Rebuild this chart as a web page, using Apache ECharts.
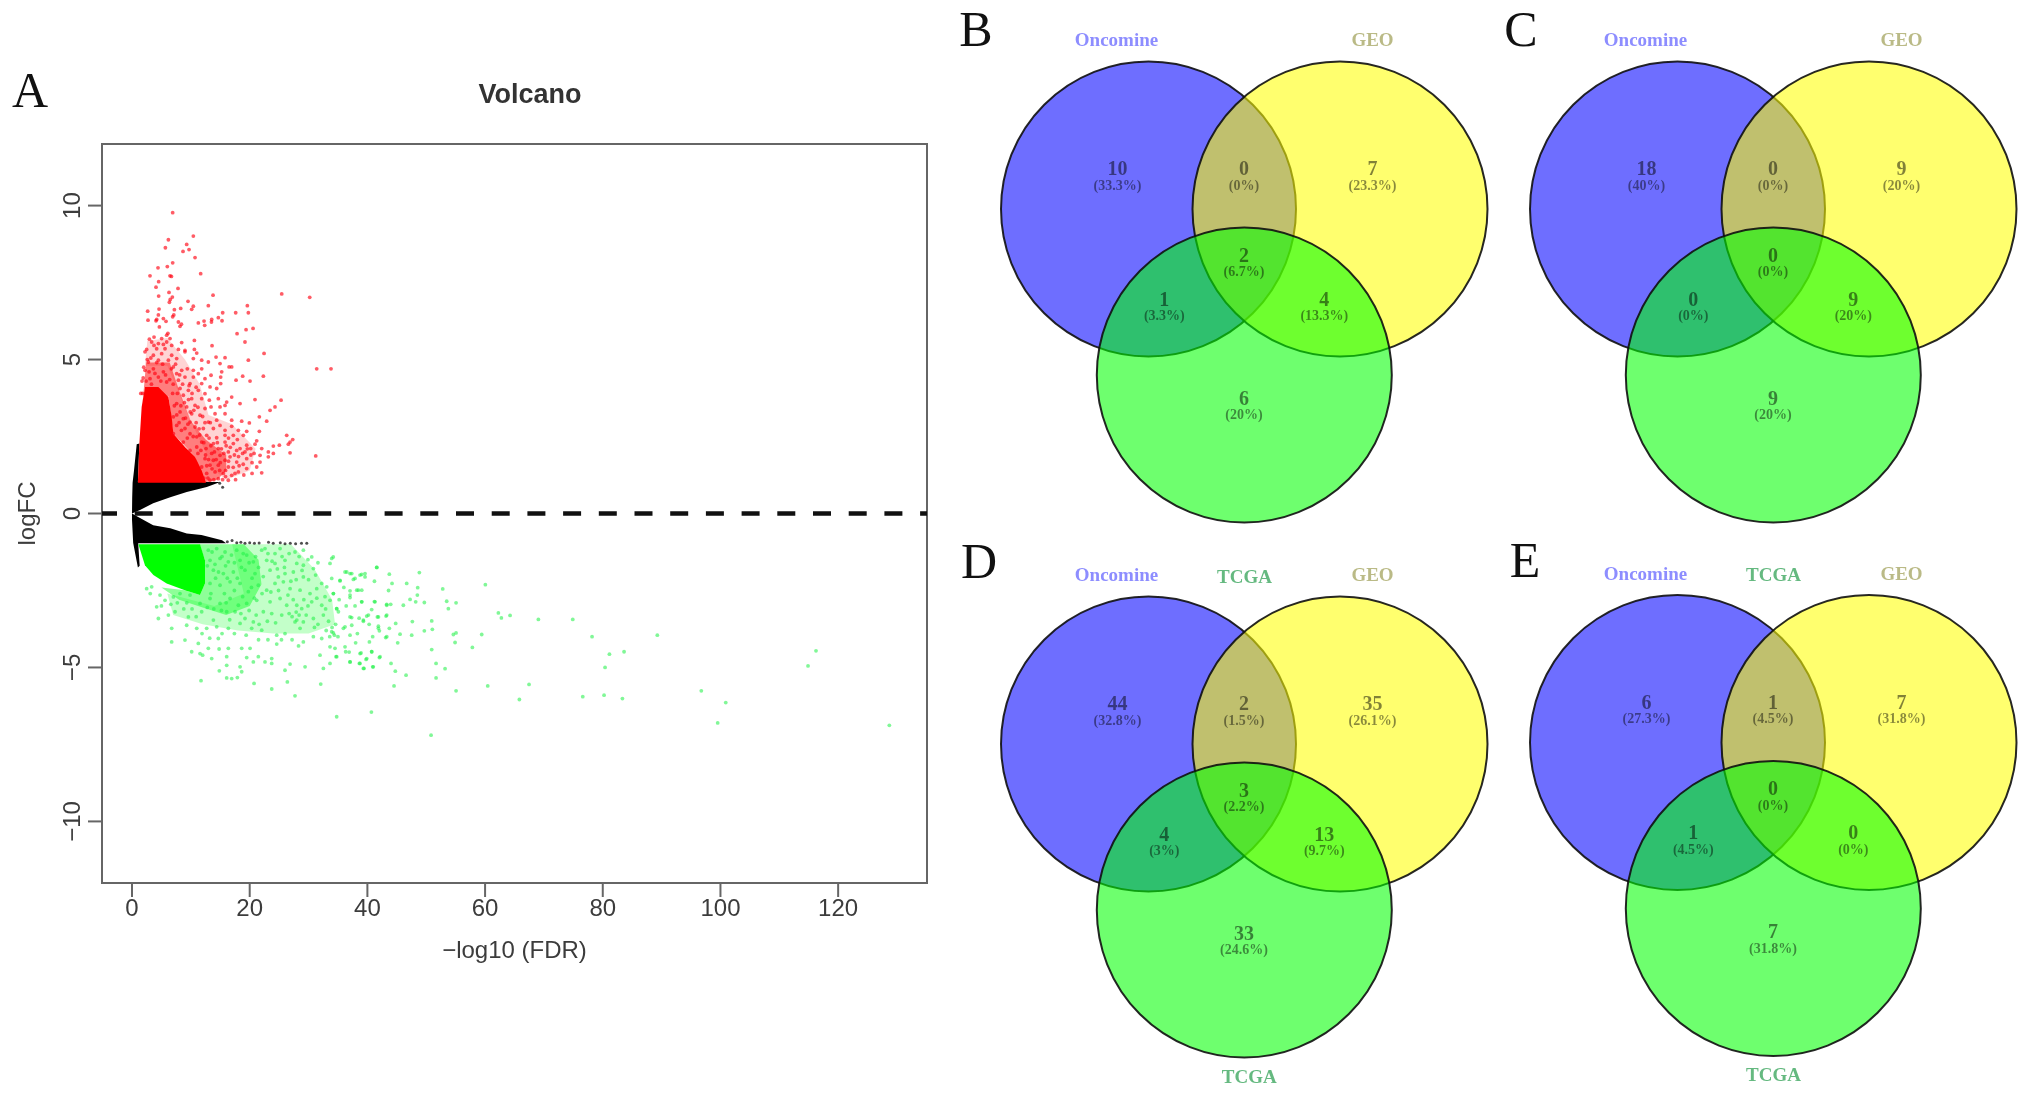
<!DOCTYPE html>
<html><head><meta charset="utf-8"><style>html,body{margin:0;padding:0;background:#fff}#c{width:2031px;height:1097px}</style>
<script src="https://cdn.jsdelivr.net/npm/echarts@6/dist/echarts.min.js"></script></head><body><div id="c"></div>
<script>
// ---------- Panel A values ----------
const xTicks=[0,20,40,60,80,100,120];
const yTicks=[-10,-5,0,5,10];
const blackUpper=[[0,0],[0.03,0.5],[0.1,1],[0.34,1.4],[0.8,2.25],[1.25,2.27],[1.0,1.02],[15,1.02],[12.7,.86],[9.3,.7],[6.5,.53],[3.6,.33],[1.36,.11]];
const blackLower=[[0,0],[0,-.2],[0.2,-.96],[1,-1.75],[1.3,-1.7],[1.05,-.97],[16,-.97],[15.3,-.87],[11.8,-.7],[9.3,-.65],[6.5,-.48],[3.6,-.38],[1.36,-.15]];
const blackSparse=[[16.2,-.92],[17,-.88],[17.8,-.95],[18.5,-.93],[19.2,-.97],[20,-.95],[20.8,-.97],[21.6,-.96],[23.2,-.93],[24,-.97],[25.2,-.95],[26,-.98],[26.9,-.97],[27.8,-.98],[28.8,-.97],[29.7,-.97],[14.9,.98],[15.4,.85]];
const redCore=[[1.0,1.0],[1.25,2.27],[1.64,3.46],[2.21,4.11],[4.48,4.11],[6.18,3.78],[6.74,3.14],[7.03,2.59],[9,2.16],[10.7,1.84],[11.84,1.4],[12.58,1]];
const redHaze=[[1.8,3.6],[2.4,4.9],[6.4,4.9],[8,4],[10,3],[12.5,2.4],[16,1.9],[16,1.4],[14.5,1.1],[12,1],[10.7,1.84],[7,2.6],[6.2,3.8],[2.2,4.1]];
const redFaint=[[2.2,4.8],[2.6,5.6],[6,5.7],[9,5],[11.5,4.2],[13,3.2],[17,2.9],[19,2.5],[21,2.1],[20,1.4],[16,1.1],[14,1.4],[10,3],[6,4.8]];
const greenCore=[[1.08,-1],[2.2,-1.68],[3.63,-2],[5.89,-2.27],[9,-2.49],[11.56,-2.65],[12.4,-2.27],[12.4,-1.52],[11.56,-1]];
const greenHaze=[[11.5,-1],[19,-1],[21.5,-1.5],[22,-2.3],[20,-3],[16,-3.3],[12,-3.05],[8,-2.8],[5,-2.4],[9,-2.49],[11.56,-2.65],[12.4,-2.27],[12.4,-1.52]];
const greenFaint=[[17,-1],[27,-1],[31,-1.8],[34,-2.8],[34.5,-3.6],[30,-3.9],[24,-3.9],[18,-3.8],[12,-3.6],[7,-3.3],[6,-2.6],[14,-3],[19,-2.6]];
const redPoints=[[6.91,9.77],[10.42,9.01],[6.18,8.89],[9.29,8.74],[5.67,8.63],[9.69,8.57],[8.67,8.51],[10.71,8.31],[6.91,8.14],[4.42,7.98],[6,8.02],[3.06,7.72],[6.46,7.72],[6.7,7.7],[11.67,7.79],[4.53,7.53],[4.08,7.35],[7.82,7.31],[6.29,7.18],[4.53,7.06],[6.86,7.03],[6.35,6.86],[6.5,6.95],[9.52,6.89],[13.77,7.09],[25.44,7.13],[30.2,7.02],[12.97,6.75],[10.42,6.73],[10.14,6.63],[8.27,6.66],[19.6,6.75],[2.66,6.57],[4.59,6.64],[7.2,6.62],[15.41,6.52],[17.62,6.52],[19.77,6.52],[4.48,6.45],[6.91,6.39],[7.1,6.45],[2.72,6.28],[4.08,6.26],[4.2,6.3],[5.33,6.33],[5.78,6.24],[13.54,6.3],[13.5,6.22],[12.24,6.25],[11.27,6.19],[14.67,6.36],[15.3,6.26],[7.88,6.22],[8.16,6.08],[8.4,6.15],[4.65,6.06],[12.35,6.11],[19.38,5.97],[20.57,6.01],[17.85,5.84],[2.95,5.66],[3.74,5.73],[5.89,5.79],[6.1,5.85],[5.04,5.68],[6.46,5.68],[10.6,5.62],[8.44,5.55],[19.2,5.57],[3.74,5.46],[5.33,5.49],[13.6,5.45],[2.49,5.33],[4.19,5.35],[7.88,5.33],[10.6,5.33],[9,5.3],[3.34,5.57],[4.48,5.52],[5.89,5.57],[6.74,5.46],[5.61,5.35],
[22.44,5.2],[2.21,5.25],[3.63,5.14],[5.04,5.19],[6.74,5.14],[9,5.25],[11,5.21],[2.78,4.92],[4.48,4.98],[6.18,4.98],[7.59,5.03],[10.42,5.03],[11.84,4.98],[12.97,4.92],[14.28,5.08],[15.81,5.06],[14.96,4.87],[19.77,4.98],[16.94,4.76],[16.5,4.76],[31.39,4.7],[33.82,4.7],[2.21,4.65],[3.63,4.7],[5.33,4.6],[7.03,4.76],[8.44,4.65],[10.42,4.65],[11.27,4.54],[11.84,4.7],[15.24,4.6],[13.43,4.49],[18.81,4.46],[22.32,4.46],[17.68,4.33],[20.06,4.3],[15.07,4.43],[3.06,4.38],[4.48,4.43],[5.89,4.27],[7.88,4.33],[9,4.43],[10.42,4.43],[12.4,4.38],[7.59,4.54],[9.86,4.22],[11.84,4.22],[13.26,4.11],[15.07,4.22],[14.39,4.06],[8.16,4.06],[9.58,4],[11.27,4],[12.4,3.89],[8.72,3.84],[10.14,3.73],[11.84,3.73],[13.14,3.68],[14.67,3.73],[16.09,3.62],[16.94,3.78],[18.36,3.57],[20.9,3.7],[25.33,3.68],[24.3,3.46],[23.46,3.35],[7.59,3.57],[9.29,3.46],[10.71,3.51],[12.41,3.41],[13.43,3.46],[14.96,3.46],[15.81,3.51],[8.16,3.3],[10.14,3.24],[11.56,3.19],[14.11,3.24],[15.81,3.24],[16.94,3.03],[18.64,3],[21.64,3.14],[22.89,3],[19.94,2.94],[7.03,3.14],[8.72,3.08],[9.86,2.97],[12.97,2.97],[14.39,3.03],[14.96,2.86],[16.94,2.83],[7.59,2.86],[9,2.76],[10.71,2.81],[12.12,2.76],[13.83,2.76],[15.81,2.7],[18.07,2.7],[19.49,2.67],[21.64,2.67],[26.29,2.54],[17.22,2.54],[15.81,2.54],[18.92,2.54],[7.03,2.59],[9.86,2.59],[11,2.49],[12.69,2.54],[14.39,2.46],[27.31,2.4],[26.86,2.32],[26.57,2.25],[21.19,2.36],[15.81,2.32],[13.83,2.27],[11.84,2.32],[17.22,2.27],[8.72,2.32],[19.49,2.22],[18.36,2.11],[20.17,2.11],[24.02,2.19],[25.04,2.22],[22.04,2.11],[12.58,2.11],[14.67,2.11],[11,2.16],[16.37,2],[17.79,2.05],[19.2,2],[20.74,1.95],[23.17,2],[26.86,1.97],[31.22,1.87],[24.02,1.95],[21.76,1.89],[9.86,2.05],[13.54,1.95],[14.96,1.89],[16.66,1.84],[19.49,1.78],[23.17,1.84],[21.76,1.67],[12.41,1.78],[13.82,1.73],[15.81,1.73],[17.79,1.67],[19.49,1.46],[21.19,1.51],[22.04,1.32],[13.26,1.57],[14.67,1.57],[16.37,1.51],[18.07,1.35],[11.84,1.51],[12.69,1.3],[14.11,1.35],[15.52,1.3],[16.94,1.24],[14.67,1.13],[16.37,1.08],[13.26,1.08],
[2.4,4.3],[2.9,4.6],[3.3,4.2],[3.9,4.55],[4.2,4.9],[4.9,4.3],[5.2,4.85],[5.7,4.5],[6.4,4.35],[6.7,4.7],[7,4.2],[7.4,4.85],[8.1,4.5],[8.6,4.2],[2.6,5],[3.2,5.05],[1.9,4.4],[1.8,3.9],[2,4.75],[9.4,4.7],[9.7,4.15],[10.9,4.1],[10.2,3.9],[8.9,3.6],[9.6,3.7],[7.7,3.9],[7.2,3.5],[6.9,3.9],[8.3,3.5],[10.5,3.35],[11.2,3.45],[9.1,3.1],[9.9,3.3],[8,2.95],[7.6,3.2],[8.4,2.7],[9.5,2.9],[10.9,2.95],[11.4,2.75],[12.4,2.95],[13.3,2.95],[12,3.15],[10.4,2.5],[9.4,2.45],[11.5,2.55],[12.2,2.3],[13.1,2.45],[13.4,2.2],[14,2],[14.5,2.3],[15.2,2.1],[15.6,1.95],[16,2.2],[16.7,2.15],[17.4,1.9],[18.1,1.85],[18.8,1.95],[19.6,2.1],[20.2,1.9],[20.9,2.25],[17.9,2.4],[16.4,2.45],[11.7,2.05],[12.5,1.9],[11.2,1.95],[13,1.75],[14.3,1.75],[15,1.65],[16.4,1.7],[17.2,1.5],[18.2,1.55],[18.9,1.6],[20.4,1.65],[13.6,1.45],[14.9,1.4],[15.9,1.4],[17.5,1.3],[19,1.25],[12.9,1.15],[13.9,1.1],[15.4,1.1],[15.9,1.2],[12.7,1.55],[12.2,1.15],[17.6,1.1],[20.4,1.3],[1.5,3.9],[1.7,4.3]];
const greenPoints=[[12.97,-1.19],[14.39,-1.14],[15.81,-1.25],[17.79,-1.19],[19.49,-1.35],[22.04,-1.19],[22.6,-1.14],[24.3,-1.3],[25.16,-1.14],[27.7,-1.25],[29.12,-1.19],[30.54,-1.41],[33.94,-1.46],[33.65,-1.62],[13.26,-1.52],[14.96,-1.46],[16.37,-1.57],[18.36,-1.52],[20.62,-1.57],[22.89,-1.52],[24.3,-1.62],[26,-1.52],[28,-1.62],[29.12,-1.68],[41.6,-1.75],[36.49,-1.9],[37.34,-1.95],[38.75,-2],[39.6,-1.95],[37.9,-2.11],[35.35,-2.17],[33.94,-2.11],[13.83,-1.84],[15.52,-1.95],[17.22,-1.9],[19.2,-1.84],[20.9,-1.95],[23.46,-1.84],[24.87,-2.06],[26,-1.95],[27.42,-1.9],[29.12,-2.06],[30.82,-1.79],[32.24,-2.27],[13.26,-2.27],[14.96,-2.33],[16.66,-2.22],[18.36,-2.27],[19.77,-2.54],[21.47,-2.33],[22.89,-2.49],[24.3,-2.27],[25.72,-2.22],[26.86,-2.44],[28.56,-2.49],[30.25,-2.6],[31.39,-2.44],[33.09,-2.38],[34.22,-2.6],[37.05,-2.65],[38.19,-2.49],[39.04,-2.49],[2.49,-2.44],[3.34,-2.38],[4.76,-2.65],[5.61,-2.82],[7.03,-2.71],[8.16,-2.6],[9.86,-2.65],[11.56,-2.92],[13.26,-2.76],[14.96,-2.92],[16.66,-2.76],[18.07,-2.98],[19.49,-2.92],[21.19,-2.82],[23.46,-2.87],[25.16,-2.76],[26.29,-2.98],[28,-2.98],[28.84,-3.09],[30.54,-2.87],[32.24,-2.98],[33.65,-2.82],[34.79,-3.09],[39.04,-2.87],[41.3,-2.87],[43.29,-2.98],[4.19,-3.03],[7.31,-3.19],[4.48,-3.41],[6.18,-3.3],[9.58,-3.36],[11.84,-3.19],[13.83,-3.46],[16.09,-3.19],[17.51,-3.19],[19.2,-3.41],[20.62,-3.52],[22.32,-3.19],[23.74,-3.25],[25.44,-3.3],[28,-3.46],[27.7,-3.52],[29.12,-3.52],[30.82,-3.41],[32.52,-3.3],[35.07,-3.19],[37.05,-3.36],[40.17,-3.3],[41.87,-3.36],[43.29,-3.3],[6.74,-3.73],[9.29,-3.63],[11,-3.73],[12.69,-3.73],[14.39,-3.68],[16.37,-3.73],[18.36,-3.57],[20.34,-3.73],[22.04,-3.79],[24.59,-3.95],[26,-3.9],[28.56,-3.73],[30.82,-4],[32.24,-4.06],[33.94,-3.84],[35.92,-3.73],[37.34,-3.63],[39.32,-3.46],[41.87,-3.73],[43.29,-4],[6.74,-4.17],[9,-4.11],[11.27,-4.22],[12.97,-4.38],[14.67,-4.06],[16.37,-4.38],[18.64,-4.38],[20.06,-4.38],[24.59,-4.24],[29.12,-4.17],[33.65,-4.33],[36.2,-4.33],[40.74,-4.49],[10.14,-4.49],[11.56,-4.55],[13.54,-4.71],[16.09,-4.65],[19.49,-4.68],[21.47,-4.65],[23.74,-4.71],[31.95,-4.6],[34.79,-4.65],[37.05,-4.82],[38.75,-4.55],[39.89,-4.71],[42.15,-4.65],[16.09,-4.93],[18.36,-4.98],[20.62,-4.82],[22.6,-4.82],[23.74,-4.87],[26.86,-4.89],[29.41,-4.98],[32.52,-5.03],[33.65,-4.87],[38.75,-4.87],[39.32,-5.03],[41,-4.98],[14.84,-5.11],[18.64,-5.14],[26,-5.09],[11.73,-5.43],[16.09,-5.34],[16.94,-5.36],[17.9,-5.33],[20.74,-5.52],[26.4,-5.47],[32.07,-5.54],[23.74,-5.7],[27.7,-5.92],
[34.2,-1.41],[41.58,-1.75],[43.73,-1.97],[48.83,-1.92],[36.2,-1.9],[37.05,-1.95],[39.03,-1.98],[39.6,-2.06],[37.62,-2.14],[35.35,-2.19],[44.19,-2.27],[46.68,-2.27],[60.05,-2.31],[48.55,-2.41],[52.8,-2.45],[48.49,-2.65],[37.05,-2.51],[38.47,-2.49],[34.22,-2.6],[37.05,-2.73],[39.03,-2.87],[41.19,-2.86],[43.28,-2.95],[43.96,-2.95],[46.11,-2.98],[47.25,-2.79],[48.21,-2.87],[49.68,-2.89],[53.48,-2.85],[55.07,-2.9],[53.76,-3.09],[34.78,-3.09],[40.73,-3.12],[62.26,-3.23],[62.77,-3.39],[64.25,-3.31],[69.06,-3.44],[74.9,-3.44],[37.33,-3.38],[39.88,-3.33],[41.7,-3.36],[43.17,-3.33],[39.32,-3.5],[47.64,-3.51],[50.93,-3.49],[44.81,-3.57],[36.2,-3.68],[41.87,-3.66],[43.73,-3.73],[51.04,-3.76],[49.68,-3.81],[42.04,-3.81],[34.22,-3.88],[45.55,-3.92],[47.53,-3.95],[54.61,-3.93],[55.07,-3.88],[59.43,-3.93],[78.18,-4],[37.05,-3.95],[40.9,-4],[43.11,-4.03],[40.34,-4.17],[45.15,-4.2],[54.9,-4.19],[34.5,-4.38],[57.84,-4.35],[50.93,-4.42],[83.62,-4.49],[81.13,-4.57],[36.31,-4.49],[38.92,-4.53],[40.73,-4.49],[34.67,-4.65],[42.04,-4.68],[39.77,-4.74],[37.05,-4.82],[38.64,-4.87],[44.02,-4.87],[51.67,-4.87],[80.39,-5],[39.43,-5.03],[40.9,-4.98],[53.2,-5.04],[44.75,-5.12],[46.57,-5.25],[51.67,-5.34],[44.53,-5.6],[60.45,-5.6],[67.47,-5.55],[55.07,-5.76],[76.6,-5.95],[80.22,-5.9],[83.34,-6.01],[65.83,-6.04],[40.68,-6.45],[34.78,-6.6],[50.82,-7.2],[89.27,-3.95],[114.88,-4.95],[116.24,-4.46],[96.75,-5.76],[100.9,-6.14],[99.53,-6.8],[128.7,-6.88],
[12.8,-1.7],[13.6,-1.25],[14.1,-1.65],[14.7,-1.9],[15.3,-1.4],[15.9,-1.7],[16.2,-2.1],[16.9,-1.35],[17.4,-1.6],[17.9,-2.1],[18.6,-1.75],[18.9,-1.3],[19.9,-1.6],[20.4,-2.1],[21,-1.4],[21.5,-1.75],[22.3,-2.05],[23.1,-1.3],[23.8,-1.55],[24.7,-1.8],[25.5,-1.4],[25.9,-1.75],[26.7,-1.3],[27,-2.2],[27.9,-2.15],[28.4,-1.4],[28.9,-1.85],[29.9,-1.5],[30,-2.15],[31.2,-2],[31.6,-1.6],[32.8,-2.7],[13.4,-2.6],[14.2,-2.1],[15.7,-2.6],[16,-2.9],[17.4,-2.5],[18.8,-2.7],[20.3,-2.4],[20.8,-2.75],[22.1,-2.6],[23.6,-2.55],[24.9,-2.5],[26.5,-2.65],[27.4,-2.8],[29.2,-2.8],[29.9,-3],[31.4,-2.75],[32.9,-3.1],[33.4,-3.5],[12.8,-3.05],[13.9,-3.1],[15.2,-3.15],[16.6,-3.45],[18.5,-3.25],[19.9,-3.15],[21.1,-3.3],[21.6,-3.6],[23,-3.5],[24.4,-3.55],[26.7,-3.25],[27.2,-3.35],[27.9,-3.2],[28.4,-3.3],[29.6,-3.3],[31.6,-3.6],[33,-3.8],[34.4,-3.95],[35,-4],[33.6,-4],[34,-3.7],[34.6,-3.6],[10.2,-3.1],[10.9,-3.35],[8.8,-3.1],[7.7,-2.9],[6.6,-2.95],[9.3,-2.9],[5,-3],[3.1,-2.6],[15.3,-3.9],[17.4,-3.9],[13.2,-4.05],[11.9,-3.9],[19.4,-3.95],[21.5,-4.1],[23.1,-4.1],[25.4,-4.1],[27.2,-4.1],[28.3,-4.3],[31,-3.7],[37.9,-3],[38.6,-3.4],[36.4,-3],[36,-2.4],[35.2,-2.8],[41.2,-2.2],[43.6,-2.5],[38.3,-3.9],[38,-4.2],[36.9,-4.5],[40.3,-3.6],[12,-4.6],[14.8,-4.4]];
// ---------- Venn values ----------
const setNames=['Oncomine','GEO','TCGA'];
const countsB=[10,0,7,1,2,4,6];   const pctB=['33.3%','0%','23.3%','3.3%','6.7%','13.3%','20%'];
const countsC=[18,0,9,0,0,9,9];   const pctC=['40%','0%','20%','0%','0%','20%','20%'];
const countsD=[44,2,35,4,3,13,33];const pctD=['32.8%','1.5%','26.1%','3%','2.2%','9.7%','24.6%'];
const countsE=[6,1,7,1,0,0,7];    const pctE=['27.3%','4.5%','31.8%','4.5%','0%','0%','31.8%'];

// ---------- layout ----------
const FONT='"Liberation Sans",Arial,sans-serif', SERIF='"Liberation Serif",serif';
const X_MIN=-5.1,X_MAX=135.1,Y_MIN=-12,Y_MAX=12,TICK_LEN=14,AXIS_COLOR='#666';
const PLOT={left:102,top:144,width:825,height:739};
const vennLayout={
  circles:[[0,0,'rgba(0,0,255,.57)'],[191.5,0,'rgba(255,255,0,.57)'],[95.8,166,'rgba(0,255,0,.57)']],
  regions:[[-31,-39],[95.5,-39],[224,-39],[15.8,91.6],[95.5,47.5],[175.8,91.6],[95.5,190.7]],
  r:147.5,pctDy:16
};
const panels=[
 {name:'B',o:[1148.5,209],counts:countsB,pct:pctB,top:false},
 {name:'C',o:[1677.5,209],counts:countsC,pct:pctC,top:false},
 {name:'D',o:[1148.5,744],counts:countsD,pct:pctD,top:true,btmDx:100.8},
 {name:'E',o:[1677.5,742.5],counts:countsE,pct:pctE,top:true,btmDx:96}
];
const grids=[Object.assign({show:true,borderColor:AXIS_COLOR,borderWidth:2},PLOT)];
const axLine={show:true,onZero:false,lineStyle:{color:AXIS_COLOR,width:2}};
const xAxes=[{type:'value',gridIndex:0,position:'bottom',min:X_MIN,max:X_MAX,name:'\u2212log10 (FDR)',nameLocation:'middle',nameGap:56,
  nameTextStyle:{fontFamily:FONT,fontSize:24,color:'#3c3c3c'},splitLine:{show:false},axisLine:axLine,axisTick:{show:false},
  axisLabel:{customValues:xTicks,fontFamily:FONT,fontSize:24,color:'#3c3c3c',margin:14,formatter:v=>String(v)}}];
const yAxes=[{type:'value',gridIndex:0,position:'left',min:Y_MIN,max:Y_MAX,name:'logFC',nameLocation:'middle',nameRotate:90,nameGap:62,
  nameTextStyle:{fontFamily:FONT,fontSize:24,color:'#3c3c3c'},splitLine:{show:false},axisLine:axLine,axisTick:{show:false},
  axisLabel:{customValues:yTicks,rotate:90,fontFamily:FONT,fontSize:24,color:'#3c3c3c',margin:17,align:'center',verticalAlign:'bottom',formatter:v=>String(v).replace('-','\u2212')}}];

const polygon=(pts,color)=>({type:'custom',xAxisIndex:0,yAxisIndex:0,coordinateSystem:'cartesian2d',silent:true,
  data:pts,renderItem:(p,api)=>p.dataIndex===0?{type:'polygon',shape:{points:pts.map(q=>api.coord(q))},style:{fill:color}}:null});
const dots=(pts,color,size)=>({type:'scatter',xAxisIndex:0,yAxisIndex:0,data:pts,symbolSize:size,itemStyle:{color:color},silent:true});
const series=[
  polygon(blackUpper,'#000'),polygon(blackLower,'#000'),dots(blackSparse,'#222',3),
  polygon(redFaint,'rgba(255,60,60,.22)'),polygon(redHaze,'rgba(255,40,40,.6)'),polygon(redCore,'#ff0000'),dots(redPoints,'rgba(255,0,15,.8)',3.8),
  polygon(greenFaint,'rgba(40,255,60,.28)'),polygon(greenHaze,'rgba(30,255,50,.5)'),polygon(greenCore,'#00ff00'),dots(greenPoints,'rgba(30,240,70,.7)',3.8),
  {type:'line',xAxisIndex:0,yAxisIndex:0,data:[[X_MIN,0],[X_MAX,0]],symbol:'none',silent:true,z:5,
   lineStyle:{color:'#111',width:4.4,type:[18,17.7],dashOffset:3}}
];
const textSeries=(gi,data,size,weight,color)=>({type:'scatter',xAxisIndex:gi,yAxisIndex:gi,symbolSize:0,silent:true,z:6,data,
  label:{show:true,position:'inside',formatter:p=>p.value[2],fontFamily:SERIF,fontSize:size,fontWeight:weight,color,align:'center',verticalAlign:'middle'}});
panels.forEach((P,k)=>{
  const gi=k+1;
  grids.push({left:P.o[0]-170,top:P.o[1]-190,width:520,height:540});
  xAxes.push({type:'value',gridIndex:gi,min:-170,max:350,show:false});
  yAxes.push({type:'value',gridIndex:gi,min:-190,max:350,inverse:true,show:false});
  series.push({type:'custom',xAxisIndex:gi,yAxisIndex:gi,coordinateSystem:'cartesian2d',silent:true,
    data:vennLayout.circles.map(c=>[c[0],c[1]]),
    renderItem:(p,api)=>{const c=api.coord([api.value(0),api.value(1)]),s=api.size([vennLayout.r,vennLayout.r]);
      return {type:'circle',shape:{cx:c[0],cy:c[1],r:s[0]},style:{fill:vennLayout.circles[p.dataIndex][2],stroke:'rgba(15,15,15,.9)',lineWidth:2}};}});
  series.push(textSeries(gi,vennLayout.regions.map((r,i)=>[r[0],r[1],String(P.counts[i])]),20,'bold','rgba(0,0,0,.62)'));
  series.push(textSeries(gi,vennLayout.regions.map((r,i)=>[r[0],r[1]+vennLayout.pctDy,'('+P.pct[i]+')']),14,'bold','rgba(0,0,0,.58)'));
  series.push(textSeries(gi,[[-32,-167.5,setNames[0]]],19,'bold','#7070ff'));
  series.push(textSeries(gi,[[224,-167.5,setNames[1]]],19,'bold','#a9a968'));
  if(P.top){
    series.push(textSeries(gi,[[96,-166,setNames[2]]],19,'bold','#3fa860'));
    series.push(textSeries(gi,[[P.btmDx,334,setNames[2]]],19,'bold','#3fa860'));
  }
});
const letters=[['A',25,89],['B',971,28],['C',1516,28],['D',974,560],['E',1520,559]];
const titles=[{text:'Volcano',left:525,top:91,textAlign:'center',textVerticalAlign:'middle',textStyle:{fontFamily:FONT,fontSize:27,fontWeight:'bold',color:'#333'}}]
 .concat(letters.map(l=>({text:l[0],left:l[1],top:l[2],textAlign:'center',textVerticalAlign:'middle',textStyle:{fontFamily:SERIF,fontSize:50,fontWeight:'normal',color:'#111'}})));
const chart=echarts.init(document.getElementById('c'),null,{renderer:'canvas'});
chart.setOption({animation:false,backgroundColor:'#fff',title:titles,grid:grids,xAxis:xAxes,yAxis:yAxes,series:series});
// tick marks placed through the axes' own scales
const tickLine=(a,b)=>({type:'line',z:100,silent:true,shape:{x1:a[0],y1:a[1],x2:b[0],y2:b[1]},style:{stroke:AXIS_COLOR,lineWidth:2}});
const toPx=(x,y)=>chart.convertToPixel({xAxisIndex:0,yAxisIndex:0},[x,y]);
chart.setOption({graphic:{elements:
  xTicks.map(v=>{const p=toPx(v,Y_MIN);return tickLine(p,[p[0],p[1]+TICK_LEN]);})
  .concat(yTicks.map(v=>{const p=toPx(X_MIN,v);return tickLine(p,[p[0]-TICK_LEN,p[1]]);}))}});
</script></body></html>
